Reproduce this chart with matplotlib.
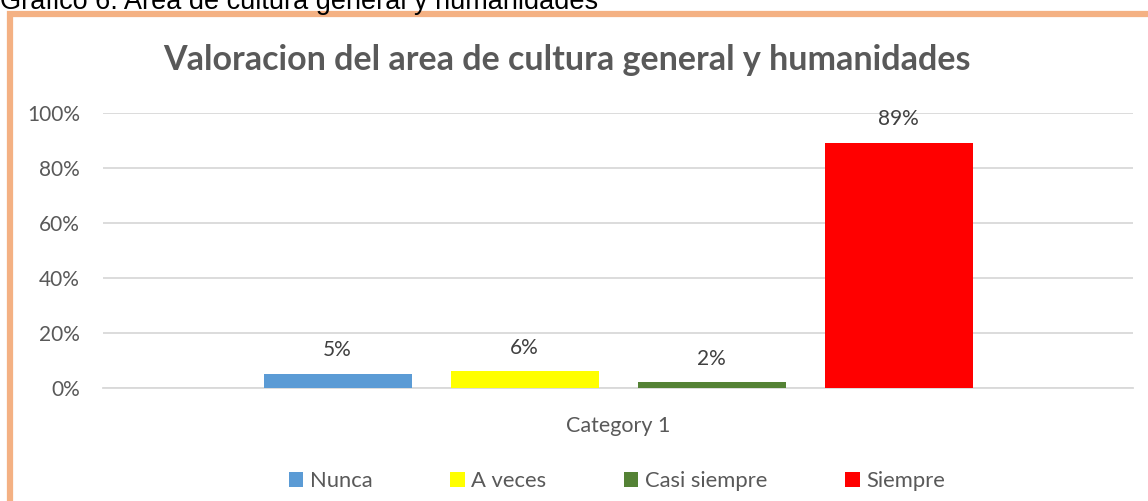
import matplotlib
matplotlib.use("Agg")
import matplotlib.pyplot as plt
from matplotlib.patches import Rectangle
from matplotlib.ticker import PercentFormatter

categories = ["Category 1"]
series = ["Nunca", "A veces", "Casi siempre", "Siempre"]
values = [0.05, 0.06, 0.02, 0.89]
colors = ["#5B9BD5", "#FFFF00", "#548235", "#FF0000"]
yticks = [0, 0.2, 0.4, 0.6, 0.8, 1.0]

plt.rcParams['font.family'] = ['Lato', 'DejaVu Sans']

W, H = 1148, 501
fig = plt.figure(figsize=(W / 100, H / 100), dpi=100)

# outer caption (cut off at top)
fig.text(0 / W, 1 - 9 / H, "Grafico 6. Area de cultura general y humanidades",
         family=['Liberation Sans', 'DejaVu Sans'], fontsize=19.5, color='black',
         ha='left', va='baseline')

# orange frame
fig.patches.append(Rectangle((9.5 / W, -0.2), 1.2, (1 - 13.5 / H) + 0.2,
                             transform=fig.transFigure, fill=False,
                             edgecolor='#F4B183', linewidth=4.5, zorder=0))

ax = fig.add_axes([103 / W, (H - 388) / H, (1133 - 103) / W, (388 - 112.7) / H])

bw = 148 / 1030
step = 187 / 1030
n = len(series)
for i, (s, v, c) in enumerate(zip(series, values, colors)):
    xpos = (i - (n - 1) / 2) * step
    ax.bar([xpos], [v], width=bw, color=c, label=s, zorder=3)
    ax.annotate(f"{round(v * 100)}%", (xpos, v), xytext=(0, 10),
                textcoords='offset points', ha='center', va='bottom',
                fontsize=15, color='#404040')

ax.set_xlim(-0.5, 0.5)
ax.set_ylim(0, 1)
ax.set_yticks(yticks)
ax.yaxis.set_major_formatter(PercentFormatter(1.0, decimals=0))
ax.set_xticks([0])
ax.set_xticklabels(categories)
ax.tick_params(axis='both', length=0, labelsize=15, colors='#595959')
ax.tick_params(axis='x', pad=20, labelsize=15.5)
ax.tick_params(axis='y', pad=16.5)
ax.grid(axis='y', color='#D9D9D9', linewidth=1.3, zorder=0)
for sp in ['top', 'right', 'left']:
    ax.spines[sp].set_visible(False)
ax.spines['bottom'].set_color('#D9D9D9')
ax.spines['bottom'].set_linewidth(1.3)

fig.text(567 / W, 1 - 60 / H, "Valoracion del area de cultura general y humanidades",
         fontsize=24.5, fontweight='bold', color='#595959', ha='center', va='center')

fig.legend(loc='center', bbox_to_anchor=(617 / W, 1 - 481 / H), ncol=4,
           frameon=False, fontsize=15.8, labelcolor='#595959',
           handlelength=0.65, handleheight=0.65, handletextpad=0.3,
           columnspacing=3.55)

fig.savefig("out.png", dpi=100, facecolor='white')
